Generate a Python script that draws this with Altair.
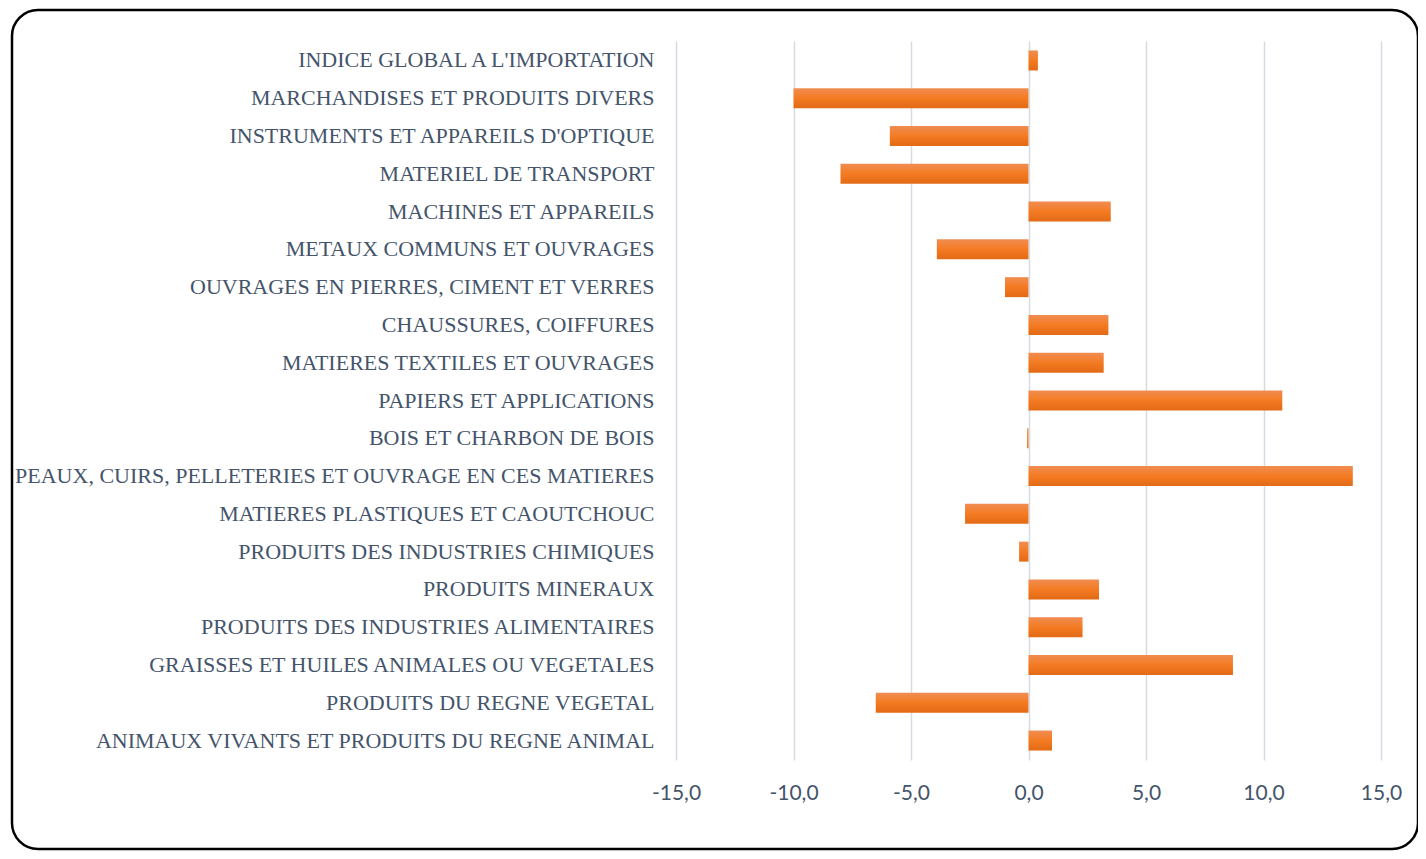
import altair as alt
import pandas as pd

categories = [
    "INDICE GLOBAL A L'IMPORTATION",
    "MARCHANDISES ET PRODUITS DIVERS",
    "INSTRUMENTS ET APPAREILS D'OPTIQUE",
    "MATERIEL DE TRANSPORT",
    "MACHINES ET APPAREILS",
    "METAUX COMMUNS ET OUVRAGES",
    "OUVRAGES EN PIERRES, CIMENT ET VERRES",
    "CHAUSSURES, COIFFURES",
    "MATIERES TEXTILES ET OUVRAGES",
    "PAPIERS ET APPLICATIONS",
    "BOIS ET CHARBON DE BOIS",
    "PEAUX, CUIRS, PELLETERIES ET OUVRAGE EN CES MATIERES",
    "MATIERES PLASTIQUES ET CAOUTCHOUC",
    "PRODUITS DES INDUSTRIES CHIMIQUES",
    "PRODUITS MINERAUX",
    "PRODUITS DES INDUSTRIES ALIMENTAIRES",
    "GRAISSES ET HUILES ANIMALES OU VEGETALES",
    "PRODUITS DU REGNE VEGETAL",
    "ANIMAUX VIVANTS ET PRODUITS DU REGNE ANIMAL",
]
values = [0.4, -10.0, -5.9, -8.0, 3.5, -3.9, -1.0, 3.4, 3.2, 10.8, -0.06,
          13.8, -2.7, -0.4, 3.0, 2.3, 8.7, -6.5, 1.0]
x_ticks = [-15, -10, -5, 0, 5, 10, 15]

df = pd.DataFrame({"cat": categories, "val": values})

TEXT = "#44546A"
GRID = "#D5DBE3"

grad = alt.Gradient(
    gradient="linear",
    stops=[
        alt.GradientStop(color="#F08D52", offset=0),
        alt.GradientStop(color="#F47B22", offset=0.5),
        alt.GradientStop(color="#E36A16", offset=1),
    ],
    x1=0, x2=0, y1=0, y2=1,
)

bars = alt.Chart(df).mark_bar(color=grad, size=20).encode(
    x=alt.X(
        "val:Q",
        scale=alt.Scale(domain=[-15, 15], nice=False),
        axis=alt.Axis(
            values=x_ticks,
            title=None,
            domain=False,
            ticks=False,
            grid=True,
            gridColor=GRID,
            gridWidth=1.5,
            labelFont="Lato",
            labelFontSize=21,
            labelColor=TEXT,
            labelPadding=22,
            labelFlush=False,
            labelExpr="(datum.value < 0 ? '-' : '') + replace(format(abs(datum.value), '.1f'), '.', ',')",
        ),
    ),
    y=alt.Y(
        "cat:N",
        sort=categories,
        scale=alt.Scale(paddingInner=0.47, paddingOuter=0.25),
        axis=alt.Axis(
            title=None,
            domain=False,
            ticks=False,
            grid=False,
            labelFont="Liberation Serif",
            labelFontSize=22,
            labelColor=TEXT,
            labelPadding=22,
            labelLimit=800,
        ),
    ),
)

frame = alt.Chart(pd.DataFrame({"a": [0]})).mark_rect(
    fill="transparent", stroke="black", strokeWidth=2.5, cornerRadius=26
).encode(
    x=alt.value(-664), x2=alt.value(742), y=alt.value(-31), y2=alt.value(808)
)

chart = alt.layer(frame, bars).properties(
    width=705,
    height=719,
    padding={"left": 668, "top": 33, "right": 37, "bottom": 91},
    autosize=alt.AutoSizeParams(type="none"),
    background="white",
).configure_view(stroke=None)

chart.save("out.html", embed_options={"renderer": "svg", "actions": False})
